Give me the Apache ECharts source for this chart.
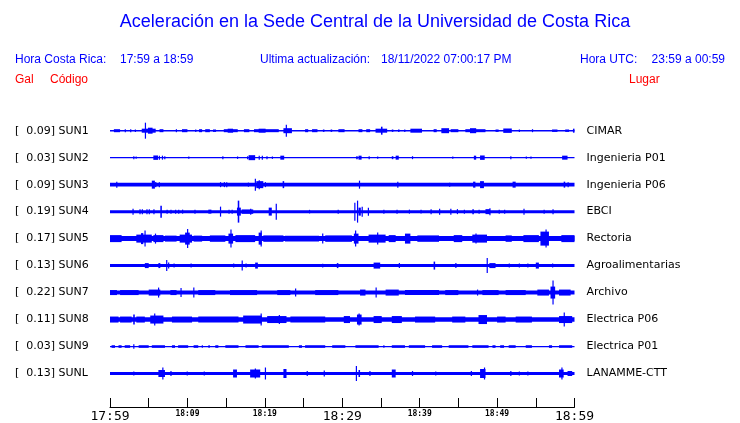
<!DOCTYPE html>
<html><head><meta charset="utf-8">
<script src="https://cdn.jsdelivr.net/npm/echarts@6/dist/echarts.min.js"></script>
<style>html,body{margin:0;padding:0;background:#fff}#c{width:740px;height:423px}</style>
</head><body><div id="c"></div>
<script>
// ---------- DATA ----------
const titleText = 'Aceleración en la Sede Central de la Universidad de Costa Rica';
const headerLabels = ['Hora Costa Rica:', '17:59 a 18:59', 'Ultima actualización:', '18/11/2022 07:00:17 PM', 'Hora UTC:', '23:59 a 00:59'];
const columnLabels = ['Gal', 'Código', 'Lugar'];
const stationCodes = ['SUN1','SUN2','SUN3','SUN4','SUN5','SUN6','SUN7','SUN8','SUN9','SUNL'];
const galValues = ['0.09','0.03','0.09','0.19','0.17','0.13','0.22','0.11','0.03','0.13'];
const places = ['CIMAR','Ingenieria P01','Ingenieria P06','EBCI','Rectoria','Agroalimentarias','Archivo','Electrica P06','Electrica P01','LANAMME-CTT'];
// time axis: minutes after 17:59
const tickMinutes = [0,10,20,30,40,50,60];
const tickLabels = ['17:59','18:09','18:19','18:29','18:39','18:49','18:59'];
const majorTickMinutes = [0,30,60];
// background (noise) half-amplitude of each trace
const baseAmp = [0.7,0.6,1.8,1.5,2.5,1.5,2.0,2.3,0.6,1.5];
// bursts/spikes of each trace: [start minute, end minute, half-amplitude]
const sun1 = [[0.5,1.3,1.5],[1.9,2.0,1.5],[2.6,2.7,1.5],[3.2,3.3,1.2],[4.1,5.9,2],[4.5,4.6,8],[4.9,5.5,3],[6.4,6.9,1.5],[8.5,8.6,1.5],[9.3,10.0,1.5],[11.0,11.1,1.2],[11.5,11.9,1.5],[12.3,12.9,1.5],[13.3,13.7,1.2],[14.7,16.5,1.5],[15.2,15.9,2],[17.3,18.0,1.5],[18.6,21.8,1.5],[19.2,20.1,2],[22.4,23.5,2.5],[22.7,22.8,6],[25.2,25.6,1.5],[26.1,26.8,1.5],[27.5,27.7,1.2],[28.5,28.7,1.2],[29.5,30.3,1.5],[32.1,32.6,1.5],[33.1,33.6,1.5],[34.3,35.8,2],[35.0,35.2,4],[36.4,36.6,1.2],[37.2,37.4,1.2],[38.0,38.1,1.2],[38.8,40.3,2],[41.8,42.2,1.5],[42.8,43.8,2.5],[44.0,45.0,1.5],[45.9,48.5,1.5],[46.5,47.3,2.5],[49.8,50.2,1.2],[50.8,51.9,2.2],[52.8,52.9,1.2],[54.5,54.6,1.5],[57.1,57.8,1.2],[58.8,59.3,1.2],[59.8,60,2]];
const sun2 = [[3.0,3.05,1.5],[3.3,3.35,1.2],[5.6,6.2,2.2],[6.3,6.35,2],[6.7,6.75,2],[7.0,7.05,1.5],[10.1,10.15,1.2],[14.5,14.55,1.5],[16.4,16.45,1.2],[17.7,17.8,1.5],[17.9,18.75,2.5],[19.2,19.25,2],[19.6,19.65,2],[20.2,20.25,1.5],[20.9,20.95,1.2],[22.0,22.5,2],[31.8,32.0,1.5],[32.1,32.5,2],[33.4,33.45,1.5],[34.5,34.55,1.2],[36.4,36.6,1.5],[36.9,37.3,2],[39.0,39.05,1.5],[44.2,44.25,1.2],[47.0,47.3,2],[47.8,48.4,2.2],[51.7,51.75,1.5],[53.7,53.75,1.2],[54.3,54.35,1.2],[58.4,59.1,2]];
const sun3 = [[0.8,0.9,3],[5.4,5.8,4],[5.8,6.0,2.5],[6.3,6.35,2.5],[14.2,14.25,2.5],[14.7,14.75,2.5],[15.0,15.05,2.5],[17.8,17.85,2],[18.7,18.8,6],[18.9,19.8,3.5],[19.2,19.3,4.5],[20.0,20.05,2.5],[22.3,22.5,3.5],[32.15,32.25,4],[37.1,37.15,3],[43.8,43.85,2],[46.9,47.2,3],[47.8,48.3,3.5],[52.0,52.4,3],[58.6,58.8,3],[59.1,59.15,2.5]];
const sun4 = [[2.9,2.95,3],[3.8,3.85,2.5],[4.1,4.15,2.5],[4.7,4.75,2.5],[5.0,5.05,2.5],[5.6,5.65,2.5],[6.5,6.7,6],[7.3,7.35,2],[7.8,7.85,2],[8.4,8.45,2],[8.8,8.85,2],[9.3,9.35,2],[10.9,10.95,2],[12.7,13.1,2],[14.2,14.25,5],[15.3,15.35,2],[15.7,15.75,2],[16.5,16.7,11],[16.4,16.9,4],[17.0,18.5,2.2],[18.1,18.2,3],[20.5,20.9,4],[21.4,21.45,8],[25.7,25.75,1.8],[29.4,29.45,2],[31.55,31.65,9],[31.9,32.05,11],[32.1,32.4,4],[32.5,32.55,5],[33.3,33.35,4],[35.3,35.35,2],[37.0,37.05,2],[38.6,38.65,2],[40.1,40.15,1.8],[41.4,41.45,2.5],[42.5,42.55,3],[43.95,44.05,3],[44.8,44.85,2.5],[45.7,45.75,2],[46.8,47.0,2.5],[47.6,47.65,2],[48.5,49.1,2.5],[49.0,49.05,3.5],[50.2,50.25,2],[50.9,50.95,2],[53.4,53.45,3],[56.0,56.05,2],[57.15,57.25,2.5]];
const sun5 = [[0,1.5,3.5],[3.4,5.4,4],[4.45,4.55,8],[4.0,4.3,5.5],[5.6,6.9,3.5],[5.8,5.85,5],[7.1,8.6,3],[9.0,10.6,4],[9.95,10.05,9.5],[9.7,10.3,6],[10.8,11.9,3],[12.9,14.9,3.2],[15.3,15.9,5],[15.55,15.65,9],[16.2,18.75,3.5],[19.2,19.6,6],[19.45,19.55,8],[19.8,22.4,3.2],[22.6,27.0,2.8],[27.4,27.45,5],[27.8,31.25,3.2],[31.5,32.1,5],[31.65,31.75,8],[33.4,35.6,4],[34.5,34.55,6],[36.0,36.9,3.5],[38.1,38.8,5],[39.7,42.5,3.2],[44.4,45.5,3.5],[46.8,48.7,4],[47.2,47.25,5],[51.1,51.9,3.2],[53.4,55.4,3.5],[55.6,56.7,7],[56.25,56.35,9],[58.3,60,3.5]];
const sun6 = [[4.5,5.0,2.5],[6.25,6.5,2.5],[7.25,7.35,5.5],[7.5,7.55,3],[8.2,8.25,2],[10.4,10.45,2],[15.9,15.95,2],[17.0,17.05,5],[17.5,17.55,2],[18.75,19.1,3],[27.4,27.45,1.8],[29.3,29.5,2.5],[34.05,34.9,3],[37.3,37.35,2.5],[41.8,42.0,4],[44.6,44.65,2.5],[48.65,48.75,7.5],[49.0,49.8,2.5],[51.5,51.55,2],[52.8,52.85,2],[53.9,53.95,2],[55.0,55.4,3],[57.1,57.15,2]];
const sun7 = [[0,0.9,2.5],[1.3,3.7,2.5],[5.0,6.5,3],[6.2,6.3,5],[7.8,8.6,2.5],[9.1,9.15,4.5],[10.75,10.85,5],[11.4,13.6,2.5],[15.5,19.0,2.5],[21.6,23.3,2.5],[23.9,23.95,4],[26.5,29.5,2.5],[32.3,33.0,3],[34.3,34.4,5],[35.6,37.3,3],[38.1,42.5,2.5],[43.3,45.0,2.5],[47.4,47.45,3],[48.1,50.2,2.5],[51.1,53.7,2.5],[55.2,56.7,3],[56.9,57.5,6],[57.15,57.25,12],[58.0,59.5,3]];
const sun8 = [[0,1.1,3],[1.3,2.8,3],[3.0,3.2,5],[3.4,4.5,3],[5.2,6.9,4],[5.7,5.75,6],[8.0,10.6,3],[11.4,16.6,3],[17.2,19.6,4],[19.45,19.55,6],[20.3,22.8,3.5],[21.8,21.85,4.5],[23.3,27.8,3],[30.2,31.0,3.5],[31.9,32.5,5],[32.1,32.15,6],[34.05,35.1,3.5],[36.4,37.7,3.5],[39.4,42.0,3],[44.2,45.9,3],[47.6,48.7,4.5],[50.0,51.1,3],[52.4,54.5,3],[58.0,59.7,3.5],[58.6,58.65,7]];
const sun9 = [[0.2,0.65,1.3],[1.1,1.5,1.3],[1.9,2.6,1.3],[3.0,3.05,2.2],[3.7,5.0,1.3],[5.4,7.1,1.3],[8.0,8.4,1.3],[8.8,10.1,1.3],[10.8,11.4,1.3],[11.85,11.9,1.3],[12.7,12.9,1.3],[13.6,14.0,1.3],[14.9,16.6,1.3],[17.5,19.2,1.3],[19.6,23.1,1.3],[24.4,24.8,1.3],[25.2,27.8,1.3],[28.7,30.4,1.3],[31.7,34.7,1.3],[35.3,35.35,1.3],[36.4,38.1,1.3],[38.6,40.7,1.3],[41.6,42.9,1.3],[43.75,46.3,1.3],[46.8,48.9,1.3],[49.4,49.8,1.3],[50.4,50.9,1.3],[51.5,52.4,1.3],[53.7,54.5,1.3],[56.7,57.1,1.3],[58.0,59.7,1.3]];
const sunL = [[3.0,3.05,2],[6.25,7.1,3.5],[6.75,6.85,6],[7.8,7.85,2.5],[9.9,9.95,2],[12.1,12.15,2],[15.9,16.4,4],[18.1,19.4,4],[18.7,18.8,5],[20.0,20.05,6],[22.4,22.8,4.5],[25.4,25.45,2.5],[27.6,27.65,3],[31.75,31.85,7.5],[32.1,32.3,3.5],[33.5,33.55,2.5],[36.4,36.9,4],[39.0,39.05,2.5],[42.0,42.05,2],[46.6,46.65,2.5],[47.8,48.5,4.5],[48.3,48.35,6],[51.7,51.75,2.5],[52.8,52.85,2],[53.9,53.95,2],[58.0,58.6,4],[58.3,58.35,6],[59.1,59.7,2.5]];
const traceEvents = [sun1,sun2,sun3,sun4,sun5,sun6,sun7,sun8,sun9,sunL];

// ---------- BUILD ----------
const BLUE = '#0000ff';
const leftLabels = stationCodes.map((c,i)=>'[  ' + galValues[i] + '] ' + c);
const seriesData = [];
traceEvents.forEach((evs, t) => {
  seriesData.push([0, 60, baseAmp[t], t]);
  evs.forEach(e => seriesData.push([e[0], e[1], e[2], t]));
});

const chart = echarts.init(document.getElementById('c'), null, {renderer:'canvas'});
const hdrFont = '12px "Liberation Sans", Arial, sans-serif';
chart.setOption({
  animation: false,
  backgroundColor: '#fff',
  grid: {left:110, top:117.2, width:464.5, height:272},
  xAxis: {
    type:'value', min:0, max:60, interval:5, offset:20,
    axisLine:{show:true, lineStyle:{color:'#000', width:1}},
    axisTick:{show:true, inside:true, length:9, lineStyle:{color:'#000'}},
    splitLine:{show:false},
    axisLabel:{
      margin:3,
      formatter: v => {
        const k = tickMinutes.indexOf(v);
        if (k < 0) return '';
        return majorTickMinutes.indexOf(v) >= 0 ? '{big|' + tickLabels[k] + '}' : '{small|' + tickLabels[k] + '}';
      },
      rich:{
        big:{fontFamily:'"DejaVu Sans Mono", monospace', fontSize:13, color:'#000'},
        small:{fontFamily:'"DejaVu Sans Mono", monospace', fontSize:8, fontWeight:'bold', color:'#000', padding:[0,0,2,0]}
      }
    }
  },
  yAxis: [{
    type:'category', data:leftLabels, inverse:true,
    axisLine:{show:false}, axisTick:{show:false}, splitLine:{show:false},
    axisLabel:{margin:95, align:'left', fontFamily:'"DejaVu Sans", sans-serif', fontSize:11, color:'#000'}
  },{
    type:'category', data:places, inverse:true, position:'right',
    axisLine:{show:false}, axisTick:{show:false}, splitLine:{show:false},
    axisLabel:{margin:12, align:'left', fontFamily:'"DejaVu Sans", sans-serif', fontSize:11, color:'#000'}
  }],
  graphic: [
    {type:'text', x:375, y:22, style:{text:titleText, font:'18px "Liberation Sans", Arial, sans-serif', fill:BLUE, textAlign:'center', textVerticalAlign:'middle'}},
    {type:'text', x:15, y:60, style:{text:headerLabels[0], font:hdrFont, fill:BLUE, textVerticalAlign:'middle'}},
    {type:'text', x:120, y:60, style:{text:headerLabels[1], font:hdrFont, fill:BLUE, textVerticalAlign:'middle'}},
    {type:'text', x:260, y:60, style:{text:headerLabels[2], font:hdrFont, fill:BLUE, textVerticalAlign:'middle'}},
    {type:'text', x:381, y:60, style:{text:headerLabels[3], font:hdrFont, fill:BLUE, textVerticalAlign:'middle'}},
    {type:'text', x:580, y:60, style:{text:headerLabels[4], font:hdrFont, fill:BLUE, textVerticalAlign:'middle'}},
    {type:'text', x:725, y:60, style:{text:headerLabels[5], font:hdrFont, fill:BLUE, textAlign:'right', textVerticalAlign:'middle'}},
    {type:'text', x:15, y:80, style:{text:columnLabels[0], font:hdrFont, fill:'#ff0000', textVerticalAlign:'middle'}},
    {type:'text', x:50, y:80, style:{text:columnLabels[1], font:hdrFont, fill:'#ff0000', textVerticalAlign:'middle'}},
    {type:'text', x:629, y:80, style:{text:columnLabels[2], font:hdrFont, fill:'#ff0000', textVerticalAlign:'middle'}}
  ],
  series: [{
    type:'custom',
    xAxisIndex:0, yAxisIndex:0,
    clip:false,
    encode:{x:[0,1], y:3},
    data: seriesData,
    renderItem: (params, api) => {
      const s = api.value(0), e = api.value(1), a = api.value(2), t = api.value(3);
      const p0 = api.coord([s, t]);
      const p1 = api.coord([e, t]);
      const w = Math.max(p1[0] - p0[0], 1.2);
      return {type:'rect', shape:{x:p0[0], y:p0[1]-a, width:w, height:2*a}, style:{fill:BLUE}};
    }
  }]
});
</script>
</body></html>
